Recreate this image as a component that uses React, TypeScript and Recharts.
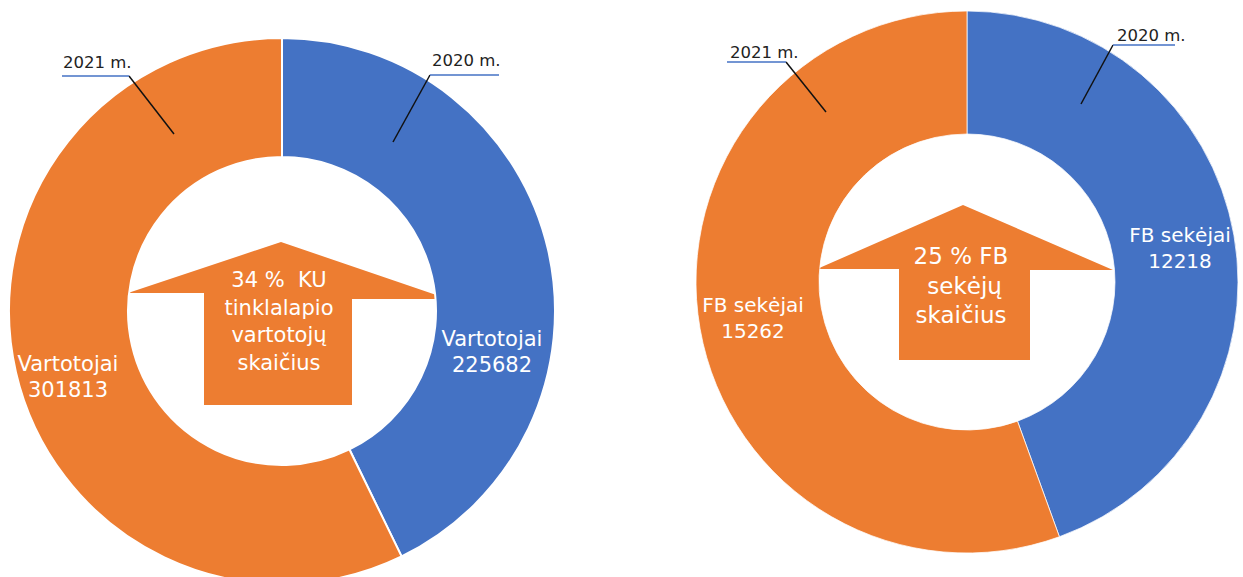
import React from 'react';
import { PieChart, Pie, Cell } from 'recharts';

// data
const years = ['2020 m.', '2021 m.'];
const usersValues = [225682, 301813];
const fbValues = [12218, 15262];
const usersTitle = 'Vartotojai';
const fbTitle = 'FB sekėjai';
const usersCenterLines = ['34 %  KU', 'tinklalapio', 'vartotojų', 'skaičius'];
const fbCenterLines = ['25 % FB', ' sekėjų', 'skaičius'];

const COLORS = ['#4472C4', '#ED7D31'];
const FONT = '"DejaVu Sans", sans-serif';

const usersData = years.map((y, i) => ({ name: y, value: usersValues[i] }));
const fbData = years.map((y, i) => ({ name: y, value: fbValues[i] }));

type Pt = [number, number];
interface Layout {
  cx: number;
  cy: number;
  inner: number;
  outer: number;
  stroke: number;
  // offsets from centre, one per slice
  inside: Pt[];
  leaderFrom: Pt[];
  leaderTo: Pt[];
  underlineEnd: number[];
  yearText: Pt[];
  arrow: { apex: Pt; left: Pt; right: Pt; shaftL: number; shaftR: number; bottom: number };
  textTop: number;
  lineGap: number;
  centerSize: number;
  insideSize: number;
}

const usersLayout: Layout = {
  cx: 282,
  cy: 311,
  inner: 154,
  outer: 273,
  stroke: 2,
  inside: [[210, 35], [-214, 60]],
  leaderFrom: [[111, -169], [-108, -177]],
  leaderTo: [[148, -236], [-153, -235]],
  underlineEnd: [217, -220],
  yearText: [[150, -245], [-219, -243]],
  arrow: { apex: [-1, -69], left: [-154, -18], right: [166, -12], shaftL: -78, shaftR: 70, bottom: 94 },
  textTop: -24,
  lineGap: 27.7,
  centerSize: 21,
  insideSize: 21,
};

const fbLayout: Layout = {
  cx: 967,
  cy: 282,
  inner: 148,
  outer: 271,
  stroke: 0.75,
  inside: [[213, -40], [-214, 30]],
  leaderFrom: [[114, -178], [-141, -170]],
  leaderTo: [[146, -237], [-181, -220]],
  underlineEnd: [208, -240],
  yearText: [[150, -241], [-237, -224]],
  arrow: { apex: [-4, -77], left: [-150, -13], right: [146, -12], shaftL: -68, shaftR: 63, bottom: 78 },
  textTop: -18,
  lineGap: 29.5,
  centerSize: 23,
  insideSize: 20,
};

const makeLabel = (L: Layout, title: string) => (props: any) => {
  const index: number = props.index;
  const cx = typeof props.cx === 'number' ? props.cx : L.cx;
  const cy = typeof props.cy === 'number' ? props.cy : L.cy;
  const [ix, iy] = L.inside[index];
  const [fx, fy] = L.leaderFrom[index];
  const [tx, ty] = L.leaderTo[index];
  const [yx, yy] = L.yearText[index];
  return (
    <g key={`lab-${index}`}>
      <text x={cx + ix} y={cy + iy} fill="#fff" fontSize={L.insideSize} fontFamily={FONT} textAnchor="middle">
        <tspan x={cx + ix}>{title}</tspan>
        <tspan x={cx + ix} dy={26}>{props.value}</tspan>
      </text>
      <line x1={cx + fx} y1={cy + fy} x2={cx + tx} y2={cy + ty} stroke="#111" strokeWidth={1.5} />
      <line x1={cx + tx} y1={cy + ty} x2={cx + L.underlineEnd[index]} y2={cy + ty} stroke="#4472C4" strokeWidth={1.5} />
      <text x={cx + yx} y={cy + yy} fill="#222" fontSize={16.5} fontFamily={FONT}>
        {props.name}
      </text>
    </g>
  );
};

const CenterArrow = ({ L, lines }: { L: Layout; lines: string[] }) => {
  const { cx, cy, arrow: a } = L;
  const pts: Pt[] = [
    a.apex,
    a.right,
    [a.shaftR, a.right[1]],
    [a.shaftR, a.bottom],
    [a.shaftL, a.bottom],
    [a.shaftL, a.left[1]],
    a.left,
  ];
  return (
    <g>
      <polygon points={pts.map(([x, y]) => `${cx + x},${cy + y}`).join(' ')} fill="#ED7D31" />
      <text fill="#fff" fontSize={L.centerSize} fontFamily={FONT} textAnchor="middle" style={{ whiteSpace: 'pre' }}>
        {lines.map((t, i) => (
          <tspan key={i} x={cx + a.apex[0] - 2} y={cy + L.textTop + i * L.lineGap}>
            {t}
          </tspan>
        ))}
      </text>
    </g>
  );
};

export default function App() {
  return (
    <div style={{ position: 'absolute', left: 0, top: 0, width: 1243, height: 577, background: '#fff' }}>
      <PieChart width={1243} height={577} margin={{ top: 0, right: 0, bottom: 0, left: 0 }}>
        <Pie
          data={usersData}
          dataKey="value"
          nameKey="name"
          cx={usersLayout.cx}
          cy={usersLayout.cy}
          innerRadius={usersLayout.inner}
          outerRadius={usersLayout.outer}
          startAngle={90}
          endAngle={-270}
          stroke="#fff"
          strokeWidth={usersLayout.stroke}
          label={makeLabel(usersLayout, usersTitle)}
          labelLine={false}
          isAnimationActive={false}
        >
          {usersData.map((d, i) => (
            <Cell key={d.name} fill={COLORS[i]} />
          ))}
        </Pie>
        <Pie
          data={fbData}
          dataKey="value"
          nameKey="name"
          cx={fbLayout.cx}
          cy={fbLayout.cy}
          innerRadius={fbLayout.inner}
          outerRadius={fbLayout.outer}
          startAngle={90}
          endAngle={-270}
          stroke="#fff"
          strokeWidth={fbLayout.stroke}
          label={makeLabel(fbLayout, fbTitle)}
          labelLine={false}
          isAnimationActive={false}
        >
          {fbData.map((d, i) => (
            <Cell key={d.name} fill={COLORS[i]} />
          ))}
        </Pie>
        <CenterArrow L={usersLayout} lines={usersCenterLines} />
        <CenterArrow L={fbLayout} lines={fbCenterLines} />
      </PieChart>
    </div>
  );
}
